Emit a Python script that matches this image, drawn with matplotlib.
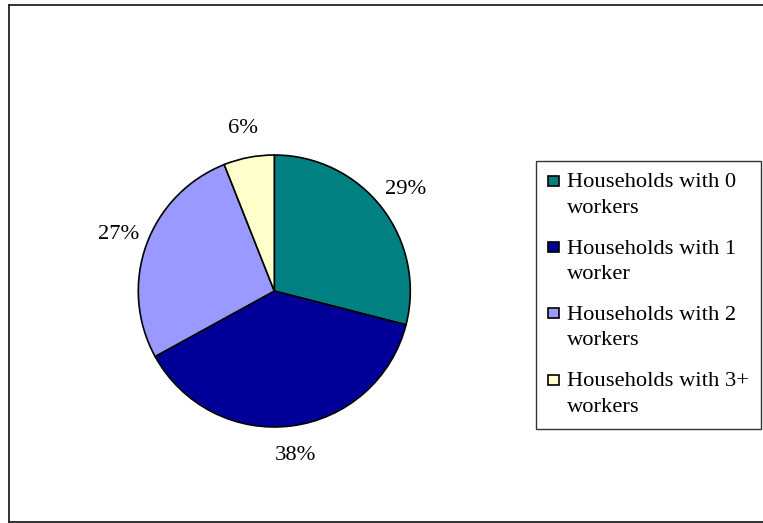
import matplotlib.pyplot as plt
from matplotlib.patches import Rectangle
from matplotlib.lines import Line2D
from matplotlib.legend_handler import HandlerPatch

plt.rcParams['font.family'] = ['Liberation Serif', 'DejaVu Serif']

labels = ['Households with 0\nworkers', 'Households with 1\nworker',
          'Households with 2\nworkers', 'Households with 3+\nworkers']
shares = [29, 38, 27, 6]
colors = ['#008080', '#000099', '#9999FF', '#FFFFCC']

FS = 16.2

fig = plt.figure(figsize=(7.63, 5.23), dpi=100)

# outer chart border (right edge runs off the canvas)
for xs, ys in [([8.5 / 763, 8.5 / 763], [1 - 5 / 523, 1 - 521.5 / 523]),
               ([8.5 / 763, 1.0], [1 - 5 / 523, 1 - 5 / 523]),
               ([8.5 / 763, 1.0], [1 - 521.5 / 523, 1 - 521.5 / 523])]:
    fig.add_artist(Line2D(xs, ys, transform=fig.transFigure, color='#222222', lw=1.3))

ax = fig.add_axes([138.3 / 763, 96 / 523, 272 / 763, 272 / 523])
wedges, texts, autotexts = ax.pie(
    shares, colors=colors, startangle=90, counterclock=False,
    autopct='%d%%', pctdistance=1.22,
    wedgeprops=dict(edgecolor='black', linewidth=1.2),
    textprops=dict(fontsize=FS, color='black'))
ax.set_xlim(-1, 1)
ax.set_ylim(-1, 1)


def top_square(legend, orig_handle, xdescent, ydescent, width, height, fontsize):
    # put the swatch beside the first line of a two-line label
    side = 0.45 * fontsize
    return Rectangle((-xdescent, -ydescent + 0.74 * fontsize), side, side)


leg = fig.legend(wedges, labels, loc='upper left',
                 bbox_to_anchor=(536 / 763, 1 - 161 / 523),
                 fontsize=FS, frameon=True, fancybox=False, shadow=False,
                 borderaxespad=0, borderpad=0.55, handlelength=0.45,
                 handletextpad=0.36, labelspacing=0.97,
                 handler_map={w: HandlerPatch(patch_func=top_square) for w in wedges})
for t in leg.get_texts():
    t.set_linespacing(1.46)
leg.get_frame().set_edgecolor('black')
leg.get_frame().set_linewidth(1.0)
for p in leg.get_patches():
    p.set_edgecolor('black')
    p.set_linewidth(1.2)

fig.savefig('out.png', dpi=100)
